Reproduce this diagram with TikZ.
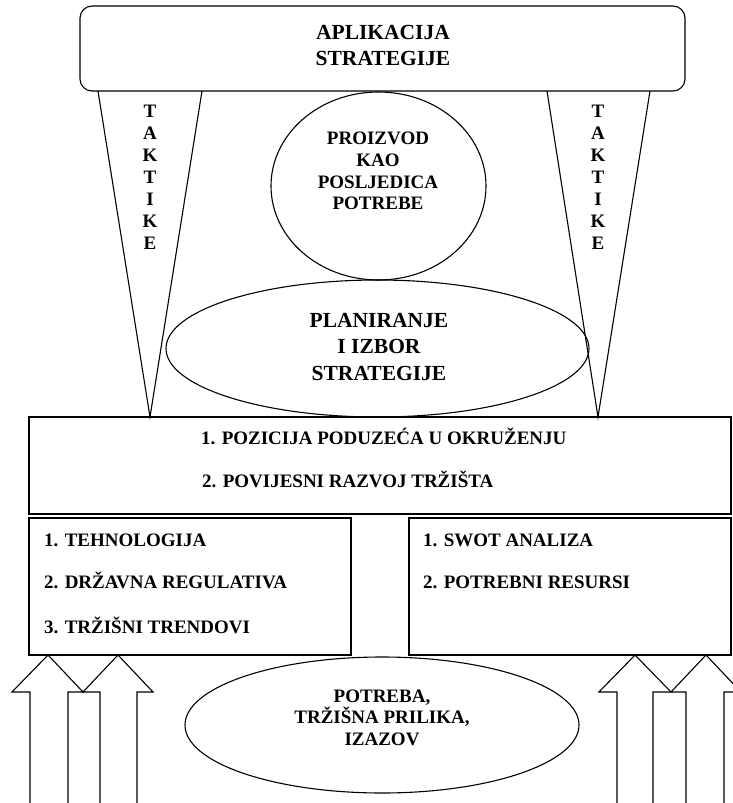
\documentclass[tikz,border=0pt]{standalone}
\usepackage{fontspec}
\setmainfont{Liberation Serif}
\usetikzlibrary{shapes.geometric}
\begin{document}
\begin{tikzpicture}[x=1pt,y=-1pt,
  shp/.style={draw=black, line width=1.1pt},
  ell/.style={ellipse, draw=black, line width=1.1pt, inner sep=0pt},
  body/.style={font=\bfseries\fontsize{19}{22}\selectfont, inner sep=0pt, anchor=base},
  bodyl/.style={font=\bfseries\fontsize{19}{22}\selectfont, inner sep=0pt, anchor=base west},
  ttl/.style={font=\bfseries\fontsize{21.5}{26}\selectfont, inner sep=0pt, anchor=base}]
\useasboundingbox (0,0) rectangle (733,803);

% top rounded box
\draw[shp, rounded corners=12pt] (80,6) rectangle (685,91);
\node[ttl] (t1) at (383,39) {APLIKACIJA};
\node[ttl] (t2) at (383,65) {STRATEGIJE};

% tactics triangles
\coordinate (la) at (98,91); \coordinate (lb) at (202,91); \coordinate (lc) at (150,417);
\coordinate (ra) at (547,91); \coordinate (rb) at (650,91); \coordinate (rc) at (598,417);
\draw[shp] (la) -- (lc) -- (lb);
\draw[shp] (ra) -- (rc) -- (rb);
\foreach \l [count=\i] in {T,A,K,T,I,K,E} {
  \node[body] (lt\i) at (150,{117+22*(\i-1)}) {\l};
  \node[body] (rt\i) at (598,{117+22*(\i-1)}) {\l};
}

% product circle
\node[ell, minimum width=215pt, minimum height=188pt] (prod) at (378.5,186) {};
\node[body] (p1) at (378,144) {PROIZVOD};
\node[body] (p2) at (378,166) {KAO};
\node[body] (p3) at (378,188) {POSLJEDICA};
\node[body] (p4) at (378,209) {POTREBE};

% planning ellipse
\node[ell, minimum width=423pt, minimum height=137pt] (plan) at (377.5,348.5) {};
\node[ttl] (pl1) at (379,327) {PLANIRANJE};
\node[ttl] (pl2) at (379,353) {I IZBOR};
\node[ttl] (pl3) at (379,380) {STRATEGIJE};

% big box
\draw[shp] (29,417) rectangle (731,514);
\node[bodyl] (b1) at (201,444) {1. POZICIJA PODUZEĆA U OKRUŽENJU};
\node[bodyl] (b2) at (202,487) {2. POVIJESNI RAZVOJ TRŽIŠTA};

% lower boxes
\draw[shp] (29,518) rectangle (351,655);
\node[bodyl] (l1) at (44,546) {1. TEHNOLOGIJA};
\node[bodyl] (l2) at (44,588) {2. DRŽAVNA REGULATIVA};
\node[bodyl] (l3) at (44,633) {3. TRŽIŠNI TRENDOVI};

\draw[shp] (409,518) rectangle (731,655);
\node[bodyl] (r1) at (423,546) {1. SWOT ANALIZA};
\node[bodyl] (r2) at (423,588) {2. POTREBNI RESURSI};

% bottom ellipse
\node[ell, minimum width=394pt, minimum height=136pt] (need) at (382,725) {};
\node[body] (n1) at (382,702) {POTREBA,};
\node[body] (n2) at (382,723) {TRŽIŠNA PRILIKA,};
\node[body] (n3) at (382,745) {IZAZOV};

% block arrows
\draw[shp, line join=miter] (30,805) -- (30,692) -- (12,692) -- (48,655) -- (83,692) -- (68,692) -- (68,805);
\draw[shp, line join=miter] (100,805) -- (100,692) -- (83,692) -- (118,655) -- (153,692) -- (137,692) -- (137,805);
\draw[shp, line join=miter] (617,805) -- (617,692) -- (599,692) -- (635,655) -- (671,692) -- (653,692) -- (653,805);
\draw[shp, line join=miter] (686,805) -- (686,692) -- (671,692) -- (706,655) -- (741,692) -- (724,692) -- (724,805);
\end{tikzpicture}
\end{document}
